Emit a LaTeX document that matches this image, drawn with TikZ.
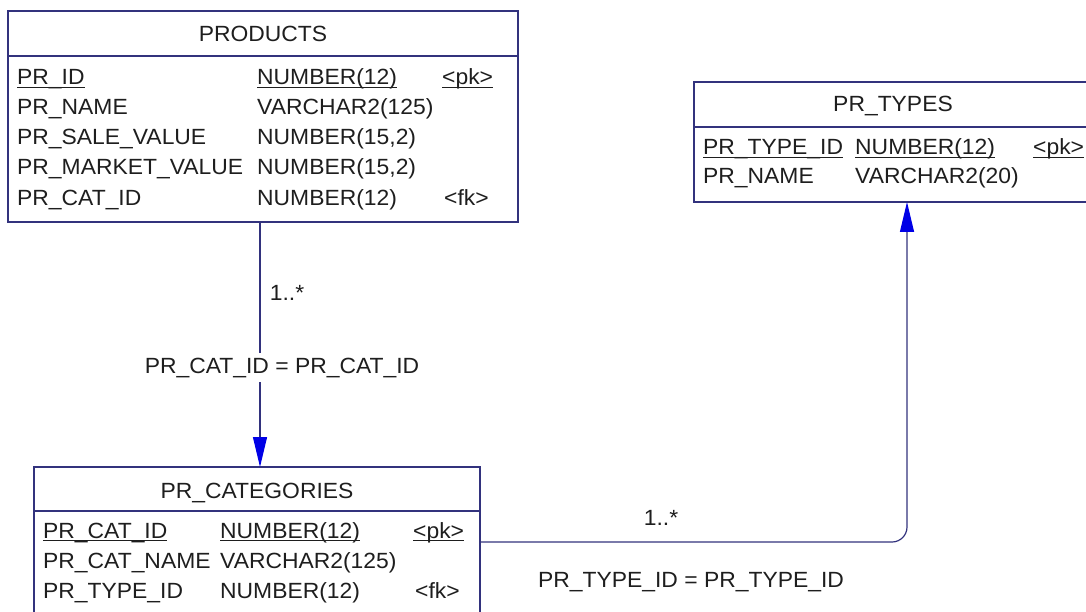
\documentclass[tikz,border=0pt]{standalone}
\usepackage{fontspec}
\setmainfont[FakeStretch=1.04]{Liberation Sans}
\usetikzlibrary{arrows.meta}
\definecolor{erline}{RGB}{50,50,125}
\definecolor{erarrow}{RGB}{0,0,230}
\definecolor{ertext}{RGB}{30,30,30}
\newcommand\keyline[1]{\setbox0\hbox{#1}\rlap{\rule[-2.8pt]{\wd0}{1pt}}\box0}

\begin{document}
\begin{tikzpicture}[x=1pt, y=-1pt,
  erbox/.style={rectangle, draw=erline, line width=1.2pt, inner sep=0pt, outer sep=0pt},
  ercol/.style={anchor=base west, inner sep=0pt, text=ertext, font=\fontsize{22}{26}\selectfont},
  ertitle/.style={anchor=base, inner sep=0pt, text=ertext, font=\fontsize{22}{26}\selectfont},
  erlabel/.style={anchor=base, fill=white, inner sep=5pt, text=ertext, font=\fontsize{22}{26}\selectfont},
  errel/.style={draw=erline, line width=1.2pt, -{Triangle[length=30pt, width=14pt, color=erarrow]}}]
  \useasboundingbox (0,0) rectangle (1086,612);
  \clip (0,0) rectangle (1086,612);

  \node (products) [erbox, minimum width=510pt, minimum height=211pt] at (263, 116.5) {};
  \draw[erline, line width=1.2pt] (products.west |- 0,56) -- (products.east |- 0,56);
  \node (productsTitle) [ertitle] at (263, 42) {PRODUCTS};
  \node (pId) [ercol] at (17, 85) {\keyline{PR\_ID}};
  \node (pIdType) [ercol] at (257, 85) {\keyline{NUMBER(12)}};
  \node (pIdKey) [ercol] at (442, 85) {\keyline{<pk>}};
  \node (pName) [ercol] at (17, 115) {PR\_NAME};
  \node (pNameType) [ercol] at (257, 115) {VARCHAR2(125)};
  \node (pSale) [ercol] at (17, 145) {PR\_SALE\_VALUE};
  \node (pSaleType) [ercol] at (257, 145) {NUMBER(15,2)};
  \node (pMarket) [ercol] at (17, 175) {PR\_MARKET\_VALUE};
  \node (pMarketType) [ercol] at (257, 175) {NUMBER(15,2)};
  \node (pCat) [ercol] at (17, 206) {PR\_CAT\_ID};
  \node (pCatType) [ercol] at (257, 206) {NUMBER(12)};
  \node (pCatKey) [ercol] at (444, 206) {<fk>};

  \node (types) [erbox, minimum width=398pt, minimum height=120pt] at (893, 142) {};
  \draw[erline, line width=1.2pt] (types.west |- 0,127) -- (types.east |- 0,127);
  \node (typesTitle) [ertitle] at (893, 112) {PR\_TYPES};
  \node (tId) [ercol] at (703, 155) {\keyline{PR\_TYPE\_ID}};
  \node (tIdType) [ercol] at (855, 155) {\keyline{NUMBER(12)}};
  \node (tIdKey) [ercol] at (1033, 155) {\keyline{<pk>}};
  \node (tName) [ercol] at (703, 184) {PR\_NAME};
  \node (tNameType) [ercol] at (855, 184) {VARCHAR2(20)};

  \node (cats) [erbox, minimum width=446pt, minimum height=160pt] at (257, 547) {};
  \draw[erline, line width=1.2pt] (cats.west |- 0,511) -- (cats.east |- 0,511);
  \node (catsTitle) [ertitle] at (257, 498) {PR\_CATEGORIES};
  \node (cId) [ercol] at (43, 538) {\keyline{PR\_CAT\_ID}};
  \node (cIdType) [ercol] at (220, 538) {\keyline{NUMBER(12)}};
  \node (cIdKey) [ercol] at (413, 538) {\keyline{<pk>}};
  \node (cName) [ercol] at (43, 568) {PR\_CAT\_NAME};
  \node (cNameType) [ercol] at (220, 568) {VARCHAR2(125)};
  \node (cType) [ercol] at (43, 598) {PR\_TYPE\_ID};
  \node (cTypeType) [ercol] at (220, 598) {NUMBER(12)};
  \node (cTypeKey) [ercol] at (415, 598) {<fk>};

  \draw[errel] (products.south -| 260,0) -- (cats.north -| 260,0);
  \draw[errel, rounded corners=15pt] (cats.east |- 0,542) -| (types.south -| 907,0);

  \node (catMult) [erlabel] at (287, 300) {1..*};
  \node (catJoin) [erlabel] at (282, 373) {PR\_CAT\_ID = PR\_CAT\_ID};
  \node (typeMult) [erlabel] at (661, 525) {1..*};
  \node (typeJoin) [erlabel] at (691, 587) {PR\_TYPE\_ID = PR\_TYPE\_ID};
\end{tikzpicture}
\end{document}
